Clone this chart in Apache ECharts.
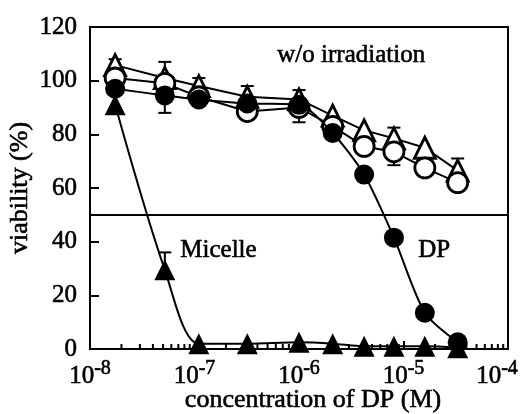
<!DOCTYPE html>
<html><head><meta charset="utf-8">
<script src="https://cdn.jsdelivr.net/npm/echarts@6/dist/echarts.min.js"></script>
<style>html,body{margin:0;padding:0;background:#fff}#c{width:521px;height:414px}</style>
</head><body><div id="c"></div>
<script>
// concentrations of DP (M)
var conc = [1.74e-8, 5.2e-8, 1.1e-7, 3.2e-7, 1.0e-6, 2.1e-6, 4.2e-6, 8.1e-6, 1.6e-5, 3.3e-5];
// viability (%) without irradiation
var openTriangle = [105.8, 101, 98, 94, 93, 87, 81.5, 78.5, 75, 66.5];
var openCircle   = [101, 99, 94, 88.5, 90, 83, 75.5, 73.5, 67.5, 62];
// viability (%) with irradiation
var dpFilled     = [97, 94.5, 93, 91.5, 91, 80.5, 65, 41.5, 13.5, 2.5];
var micelle      = [91, 29.5, 2, 2, 2.5, 2, 1, 1, 1, 0.5];
// error bars: x, low, high
var errX    = [1.74e-8, 5.2e-8, 1.1e-7, 3.2e-7, 1.0e-6, 8.1e-6, 3.3e-5, 5.2e-8];
var errLow  = [103, 88, 96, 90, 84.5, 68.5, 62, 27];
var errHigh = [108, 107, 101, 98, 96.5, 82.5, 71, 36];
var yTicks = [0, 20, 40, 60, 80, 100, 120];
var xTickExp = [-8, -7, -6, -5, -4];

function pairs(ys){ return conc.map(function(x,i){ return [x, ys[i]]; }); }
var minorTicks = [];
for (var d = -8; d < -4; d++) for (var m = 2; m <= 9; m++) minorTicks.push([m * Math.pow(10, d), 0]);

var font = 'Liberation Serif';
var thick = {textBorderColor: '#000', textBorderWidth: 0.6};
var chart = echarts.init(document.getElementById('c'), null, {renderer:'canvas'});
var mk = function(name, data, symbol, filled, smooth, z){
  return {
    name: name, type: 'line', data: pairs(data), symbol: symbol,
    symbolSize: symbol === 'triangle' ? [21, 21] : 20, smooth: smooth, z: z,
    showAllSymbol: true,
    lineStyle: {color:'#000', width:2},
    itemStyle: {color: filled ? '#000' : '#fff', borderColor:'#000', borderWidth: filled ? 0 : 2.8},
    animation: false
  };
};
var s1 = mk('open triangle', openTriangle, 'triangle', false, false, 3);
s1.markLine = {silent:true, symbol:'none', label:{show:false}, lineStyle:{color:'#000', width:2, type:'solid'}, data:[{yAxis:50}], animation:false};
var option = {
  animation: false,
  grid: {left: 90, right: 13, top: 27, bottom: 65, show: true, borderColor: '#000', borderWidth: 2, containLabel: false, outerBoundsMode: 'none'},
  xAxis: {
    type: 'log', logBase: 10, min: 1e-8, max: 1e-4,
    name: 'concentration of DP (M)', nameLocation: 'middle', nameGap: 38, nameMoveOverlap: false,
    nameTextStyle: Object.assign({fontFamily: font, fontSize: 26, color: '#000', padding: [0,0,0,28]}, thick),
    axisLine: {lineStyle: {color:'#000', width: 2}},
    axisTick: {inside: true, length: 8, lineStyle: {color:'#000', width: 2}},
    splitLine: {show: false},
    axisLabel: {
      margin: 10, color: '#000', hideOverlap: false,
      formatter: function(v){ var e = Math.round(Math.log10(v)); return e === -4 ? '{b|10}{t|' + e + '}' : '{b|10}{s|' + e + '}'; },
      rich: {
        b: Object.assign({fontFamily: font, fontSize: 25, color:'#000', verticalAlign: 'bottom'}, thick),
        s: Object.assign({fontFamily: font, fontSize: 20, color:'#000', verticalAlign: 'top', padding:[0,0,10,0]}, thick),
        t: Object.assign({fontFamily: font, fontSize: 20, color:'#000', verticalAlign: 'top', padding:[0,22,10,0]}, thick)
      }
    }
  },
  yAxis: {
    type: 'value', min: 0, max: 120, interval: 20,
    name: 'viability (%)', nameLocation: 'middle', nameGap: 57, nameRotate: 90, nameMoveOverlap: false,
    nameTextStyle: Object.assign({fontFamily: font, fontSize: 26, color: '#000'}, thick),
    axisLine: {show: true, lineStyle: {color:'#000', width: 2}},
    axisTick: {show: true, inside: true, length: 9, lineStyle: {color:'#000', width: 2}},
    splitLine: {show: false},
    axisLabel: Object.assign({margin: 13, color: '#000', fontFamily: font, fontSize: 25}, thick)
  },
  graphic: [
    {type:'text', left: 277, top: 43, style:{text:'w/o irradiation', font:'25px "Liberation Serif"', fill:'#000', stroke:'#000', lineWidth:0.6}},
    {type:'text', left: 180, top: 238, style:{text:'Micelle', font:'25px "Liberation Serif"', fill:'#000', stroke:'#000', lineWidth:0.6}},
    {type:'text', left: 418, top: 238, style:{text:'DP', font:'25px "Liberation Serif"', fill:'#000', stroke:'#000', lineWidth:0.6}}
  ],
  series: [
    {
      type: 'custom', z: 1, animation: false, silent: true,
      data: errX.map(function(x,i){ return [x, errLow[i], errHigh[i]]; }),
      renderItem: function(params, api){
        var lo = api.coord([api.value(0), api.value(1)]);
        var hi = api.coord([api.value(0), api.value(2)]);
        var w = 6.5;
        var st = {stroke:'#000', lineWidth: 2};
        return {type:'group', children:[
          {type:'line', shape:{x1:lo[0], y1:lo[1], x2:hi[0], y2:hi[1]}, style: st},
          {type:'line', shape:{x1:hi[0]-w, y1:hi[1], x2:hi[0]+w, y2:hi[1]}, style: st},
          {type:'line', shape:{x1:lo[0]-w, y1:lo[1], x2:lo[0]+w, y2:lo[1]}, style: st}
        ]};
      }
    },
    {
      type: 'custom', z: 1, animation: false, silent: true, clip: false,
      data: minorTicks,
      renderItem: function(params, api){
        var p = api.coord([api.value(0), 0]);
        return {type:'line', shape:{x1:p[0], y1:p[1], x2:p[0], y2:p[1]-5}, style:{stroke:'#000', lineWidth:2}};
      }
    },
    s1,
    mk('open circle', openCircle, 'circle', false, false, 4),
    mk('DP', dpFilled, 'circle', true, 0.25, 5),
    mk('Micelle', micelle, 'triangle', true, 0.3, 6)
  ]
};
chart.setOption(option);
</script></body></html>
